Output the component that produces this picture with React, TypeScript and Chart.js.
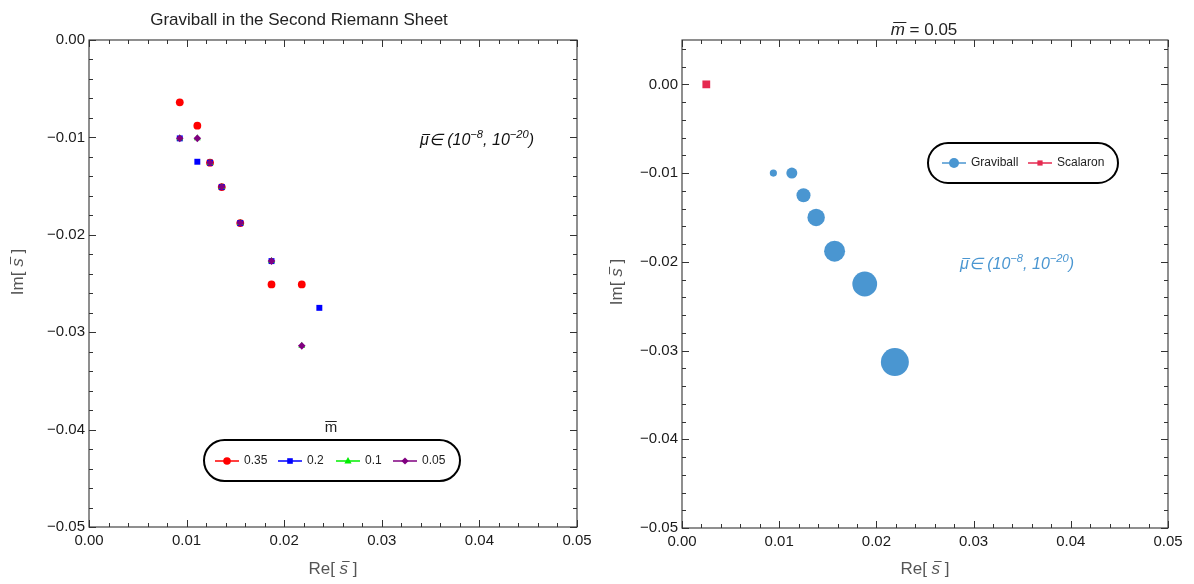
import React, { useEffect, useRef } from 'react';
import { Chart, registerables } from 'chart.js';
Chart.register(...registerables);

// ---------- data ----------
const X_TICKS = [0, 0.01, 0.02, 0.03, 0.04, 0.05];
const Y_TICKS = [0, -0.01, -0.02, -0.03, -0.04, -0.05];

// left panel: graviball poles for several m-bar values
const RE_035 = [0.0093, 0.0111, 0.0124, 0.0136, 0.0155, 0.0187, 0.0218];
const IM_035 = [-0.0064, -0.0088, -0.0126, -0.0151, -0.0188, -0.0251, -0.0251];
const RE_02 = [0.0093, 0.0111, 0.0124, 0.0136, 0.0155, 0.0187, 0.0236];
const IM_02 = [-0.0101, -0.0125, -0.0126, -0.0151, -0.0188, -0.0227, -0.0275];
const RE_01 = [0.0093, 0.0111, 0.0124, 0.0136, 0.0155, 0.0187, 0.0218];
const IM_01 = [-0.0101, -0.0101, -0.0126, -0.0151, -0.0188, -0.0227, -0.0314];
const RE_005 = [0.0093, 0.0111, 0.0124, 0.0136, 0.0155, 0.0187, 0.0218];
const IM_005 = [-0.0101, -0.0101, -0.0126, -0.0151, -0.0188, -0.0227, -0.0314];

// right panel (m-bar = 0.05)
const GRAV_RE = [0.0094, 0.0113, 0.0125, 0.0138, 0.0157, 0.0188, 0.0219];
const GRAV_IM = [-0.0100, -0.0100, -0.0125, -0.0150, -0.0188, -0.0225, -0.0313];
const SCAL_RE = [0.0025];
const SCAL_IM = [0.0];

// ---------- styles ----------
const GRAV_RADII = [3.6, 5.5, 7, 8.7, 10.5, 12.4, 14];
const FONT = '"Liberation Sans", Arial, Helvetica, sans-serif';
const BLUE = '#4a96d1';
const CRIMSON = '#e5294f';
const LABEL_GRAY = '#555555';
const TICK_COLOR = '#1a1a1a';

const zip = (xs: number[], ys: number[]) => xs.map((x, i) => ({ x, y: ys[i] }));
const fmt = (v: number) => (Math.abs(v) < 1e-9 ? '0.00' : v.toFixed(2).replace('-', '\u2212'));

type Part = { t: string; size: number; italic?: boolean; dy?: number; bar?: boolean };
const fontOf = (p: Part) => `${p.italic ? 'italic ' : ''}${p.size}px ${FONT}`;

function drawRich(ctx: CanvasRenderingContext2D, parts: Part[], x: number, y: number, align: 'left' | 'center', color: string) {
  ctx.save();
  ctx.fillStyle = color;
  ctx.strokeStyle = color;
  ctx.textBaseline = 'middle';
  ctx.textAlign = 'left';
  let total = 0;
  const widths = parts.map((p) => {
    ctx.font = fontOf(p);
    const w = ctx.measureText(p.t).width;
    total += w;
    return w;
  });
  let cx = align === 'center' ? x - total / 2 : x;
  parts.forEach((p, i) => {
    ctx.font = fontOf(p);
    const yy = y + (p.dy || 0);
    ctx.fillText(p.t, cx, yy);
    if (p.bar) {
      const sh = p.italic ? p.size * 0.12 : 0;
      const by = Math.round(yy - p.size * 0.45) + 0.5;
      ctx.lineWidth = 1;
      ctx.beginPath();
      ctx.moveTo(cx + sh + 0.5, by);
      ctx.lineTo(cx + widths[i] + sh - 0.5, by);
      ctx.stroke();
    }
    cx += widths[i];
  });
  ctx.restore();
}

function drawFrame(chart: any, xMin: number, xMax: number, yMin: number, yMax: number) {
  const { ctx, chartArea: a, scales } = chart;
  const xs = scales.x;
  const ys = scales.y;
  ctx.save();
  ctx.strokeStyle = '#333333';
  ctx.lineWidth = 1.1;
  ctx.strokeRect(a.left, a.top, a.right - a.left, a.bottom - a.top);
  ctx.lineWidth = 1;
  const step = 0.002;
  const nx = Math.floor((xMax - xMin) / step + 1e-6);
  for (let i = 0; i <= nx; i++) {
    const v = xMin + i * step;
    const major = Math.abs(v / 0.01 - Math.round(v / 0.01)) < 1e-6;
    const len = major ? 7 : 4;
    const px = Math.round(xs.getPixelForValue(v)) + 0.5;
    ctx.beginPath();
    ctx.moveTo(px, a.bottom);
    ctx.lineTo(px, a.bottom - len);
    ctx.moveTo(px, a.top);
    ctx.lineTo(px, a.top + len);
    ctx.stroke();
  }
  const ny = Math.floor((yMax - yMin) / step + 1e-6);
  for (let i = 0; i <= ny; i++) {
    const v = yMin + i * step;
    const major = Math.abs(v / 0.01 - Math.round(v / 0.01)) < 1e-6;
    const len = major ? 7 : 4;
    const py = Math.round(ys.getPixelForValue(v)) + 0.5;
    ctx.beginPath();
    ctx.moveTo(a.left, py);
    ctx.lineTo(a.left + len, py);
    ctx.moveTo(a.right, py);
    ctx.lineTo(a.right - len, py);
    ctx.stroke();
  }
  ctx.restore();
}

function stadium(ctx: CanvasRenderingContext2D, x: number, y: number, w: number, h: number) {
  const r = h / 2;
  ctx.save();
  ctx.strokeStyle = '#000';
  ctx.lineWidth = 2;
  ctx.beginPath();
  ctx.moveTo(x + r, y);
  ctx.lineTo(x + w - r, y);
  ctx.arc(x + w - r, y + r, r, -Math.PI / 2, Math.PI / 2);
  ctx.lineTo(x + r, y + h);
  ctx.arc(x + r, y + r, r, Math.PI / 2, (3 * Math.PI) / 2);
  ctx.closePath();
  ctx.fillStyle = '#fff';
  ctx.fill();
  ctx.stroke();
  ctx.restore();
}

function marker(ctx: CanvasRenderingContext2D, kind: string, x: number, y: number, r: number, color: string) {
  ctx.save();
  ctx.fillStyle = color;
  ctx.beginPath();
  if (kind === 'circle') ctx.arc(x, y, r, 0, Math.PI * 2);
  else if (kind === 'square') ctx.rect(x - r, y - r, 2 * r, 2 * r);
  else if (kind === 'triangle') {
    ctx.moveTo(x, y - r * 1.1);
    ctx.lineTo(x + r, y + r * 0.7);
    ctx.lineTo(x - r, y + r * 0.7);
    ctx.closePath();
  } else {
    ctx.moveTo(x, y - r);
    ctx.lineTo(x + r, y);
    ctx.lineTo(x, y + r);
    ctx.lineTo(x - r, y);
    ctx.closePath();
  }
  ctx.fill();
  ctx.restore();
}

function legendEntry(ctx: CanvasRenderingContext2D, x0: number, y: number, color: string, kind: string, r: number, label: string) {
  ctx.save();
  ctx.strokeStyle = color;
  ctx.lineWidth = 1.5;
  ctx.beginPath();
  ctx.moveTo(x0, y);
  ctx.lineTo(x0 + 24, y);
  ctx.stroke();
  ctx.restore();
  marker(ctx, kind, x0 + 12, y, r, color);
  drawRich(ctx, [{ t: label, size: 12 }], x0 + 29, y, 'left', '#222');
}

const muParts = (size: number): Part[] => [
  { t: '\u03bc', size, italic: true, bar: true },
  { t: '\u2208 (10', size, italic: true },
  { t: '\u22128', size: size * 0.7, italic: true, dy: -size * 0.38 },
  { t: ', 10', size, italic: true },
  { t: '\u221220', size: size * 0.7, italic: true, dy: -size * 0.38 },
  { t: ')', size, italic: true },
];

const sBarLabel = (prefix: string, size: number): Part[] => [
  { t: prefix + '[ ', size },
  { t: 's', size, italic: true, bar: true },
  { t: ' ]', size },
];

function axisOpts(ticks: number[], min: number, max: number, fitKey: 'height' | 'width', fitVal: number, pad: number) {
  return {
    type: 'linear' as const,
    min,
    max,
    afterBuildTicks: (s: any) => {
      s.ticks = ticks.map((v) => ({ value: v }));
    },
    afterFit: (s: any) => {
      s[fitKey] = fitVal;
    },
    ticks: {
      callback: (v: any) => fmt(Number(v)),
      font: { size: 15, family: FONT },
      color: TICK_COLOR,
      padding: pad,
      maxRotation: 0,
      autoSkip: false,
    },
    grid: { display: false, drawTicks: false },
    border: { display: false },
  };
}

export default function App() {
  const leftRef = useRef<HTMLCanvasElement>(null);
  const rightRef = useRef<HTMLCanvasElement>(null);

  useEffect(() => {
    const leftDecor = {
      id: 'leftDecor',
      afterDraw(chart: any) {
        const ctx = chart.ctx as CanvasRenderingContext2D;
        drawFrame(chart, 0, 0.05, -0.05, 0);
        drawRich(ctx, [{ t: 'Graviball in the Second Riemann Sheet', size: 17 }], 299, 20, 'center', '#222');
        drawRich(ctx, sBarLabel('Re', 17), 333, 569, 'center', LABEL_GRAY);
        ctx.save();
        ctx.translate(18, 272);
        ctx.rotate(-Math.PI / 2);
        drawRich(ctx, sBarLabel('Im', 17), 0, 0, 'center', LABEL_GRAY);
        ctx.restore();
        drawRich(ctx, muParts(16), 420, 141, 'left', '#111');
        drawRich(ctx, [{ t: 'm', size: 15, bar: true }], 331, 428, 'center', '#222');
        stadium(ctx, 204, 440, 256, 41);
        legendEntry(ctx, 215, 461, '#ff0000', 'circle', 3.8, '0.35');
        legendEntry(ctx, 278, 461, '#0000ff', 'square', 2.8, '0.2');
        legendEntry(ctx, 336, 461, '#00ee00', 'triangle', 3.6, '0.1');
        legendEntry(ctx, 393, 461, '#800080', 'diamond', 3.6, '0.05');
      },
    };

    const rightDecor = {
      id: 'rightDecor',
      afterDraw(chart: any) {
        const ctx = chart.ctx as CanvasRenderingContext2D;
        drawFrame(chart, 0, 0.05, -0.05, 0.005);
        drawRich(
          ctx,
          [
            { t: 'm', size: 17, italic: true, bar: true },
            { t: ' = 0.05', size: 17 },
          ],
          327,
          30,
          'center',
          '#222'
        );
        drawRich(ctx, sBarLabel('Re', 17), 328, 569, 'center', LABEL_GRAY);
        ctx.save();
        ctx.translate(20, 282);
        ctx.rotate(-Math.PI / 2);
        drawRich(ctx, sBarLabel('Im', 17), 0, 0, 'center', LABEL_GRAY);
        ctx.restore();
        drawRich(ctx, muParts(16), 363, 265, 'left', BLUE);
        stadium(ctx, 331, 143, 190, 40);
        legendEntry(ctx, 345, 163, BLUE, 'circle', 5, 'Graviball');
        legendEntry(ctx, 431, 163, CRIMSON, 'square', 2.6, 'Scalaron');
      },
    };

    const common = {
      responsive: false,
      animation: false as const,
      events: [] as any[],
      devicePixelRatio: 1,
      plugins: { legend: { display: false }, tooltip: { enabled: false }, title: { display: false } },
    };

    const left = new Chart(leftRef.current!, {
      type: 'scatter',
      data: {
        datasets: [
          { label: '0.35', data: zip(RE_035, IM_035), order: 4, backgroundColor: '#ff0000', borderColor: '#ff0000', pointStyle: 'circle', pointRadius: 3.9, pointBorderWidth: 0 },
          { label: '0.2', data: zip(RE_02, IM_02), order: 3, backgroundColor: '#0000ff', borderColor: '#0000ff', pointStyle: 'rect', pointRadius: 4.2, pointBorderWidth: 0 },
          { label: '0.1', data: zip(RE_01, IM_01), order: 2, backgroundColor: '#00ee00', borderColor: '#00ee00', pointStyle: 'triangle', pointRadius: 4, pointBorderWidth: 0 },
          { label: '0.05', data: zip(RE_005, IM_005), order: 1, backgroundColor: '#800080', borderColor: '#800080', pointStyle: 'rectRot', pointRadius: 3.8, pointBorderWidth: 0 },
        ],
      },
      options: {
        ...common,
        layout: { padding: { top: 40, right: 20, left: 0, bottom: 0 } },
        scales: {
          x: axisOpts(X_TICKS, 0, 0.05, 'height', 57, 5),
          y: axisOpts(Y_TICKS, -0.05, 0, 'width', 89, 4),
        },
      } as any,
      plugins: [leftDecor],
    });

    const right = new Chart(rightRef.current!, {
      type: 'scatter',
      data: {
        datasets: [
          { label: 'Graviball', data: zip(GRAV_RE, GRAV_IM), order: 2, backgroundColor: BLUE, borderColor: BLUE, pointStyle: 'circle', pointRadius: GRAV_RADII, pointBorderWidth: 0 },
          { label: 'Scalaron', data: zip(SCAL_RE, SCAL_IM), order: 1, backgroundColor: CRIMSON, borderColor: CRIMSON, pointStyle: 'rect', pointRadius: 5.5, pointBorderWidth: 0 },
        ],
      },
      options: {
        ...common,
        layout: { padding: { top: 40, right: 26, left: 0, bottom: 0 } },
        scales: {
          x: axisOpts(X_TICKS, 0, 0.05, 'height', 56, 5),
          y: axisOpts(Y_TICKS, -0.05, 0.005, 'width', 85, 4),
        },
      } as any,
      plugins: [rightDecor],
    });

    return () => {
      left.destroy();
      right.destroy();
    };
  }, []);

  return (
    <div style={{ position: 'absolute', left: 0, top: 0, width: 1194, height: 584, background: '#fff' }}>
      <canvas ref={leftRef} width={597} height={584} style={{ position: 'absolute', left: 0, top: 0 }} />
      <canvas ref={rightRef} width={597} height={584} style={{ position: 'absolute', left: 597, top: 0 }} />
    </div>
  );
}
